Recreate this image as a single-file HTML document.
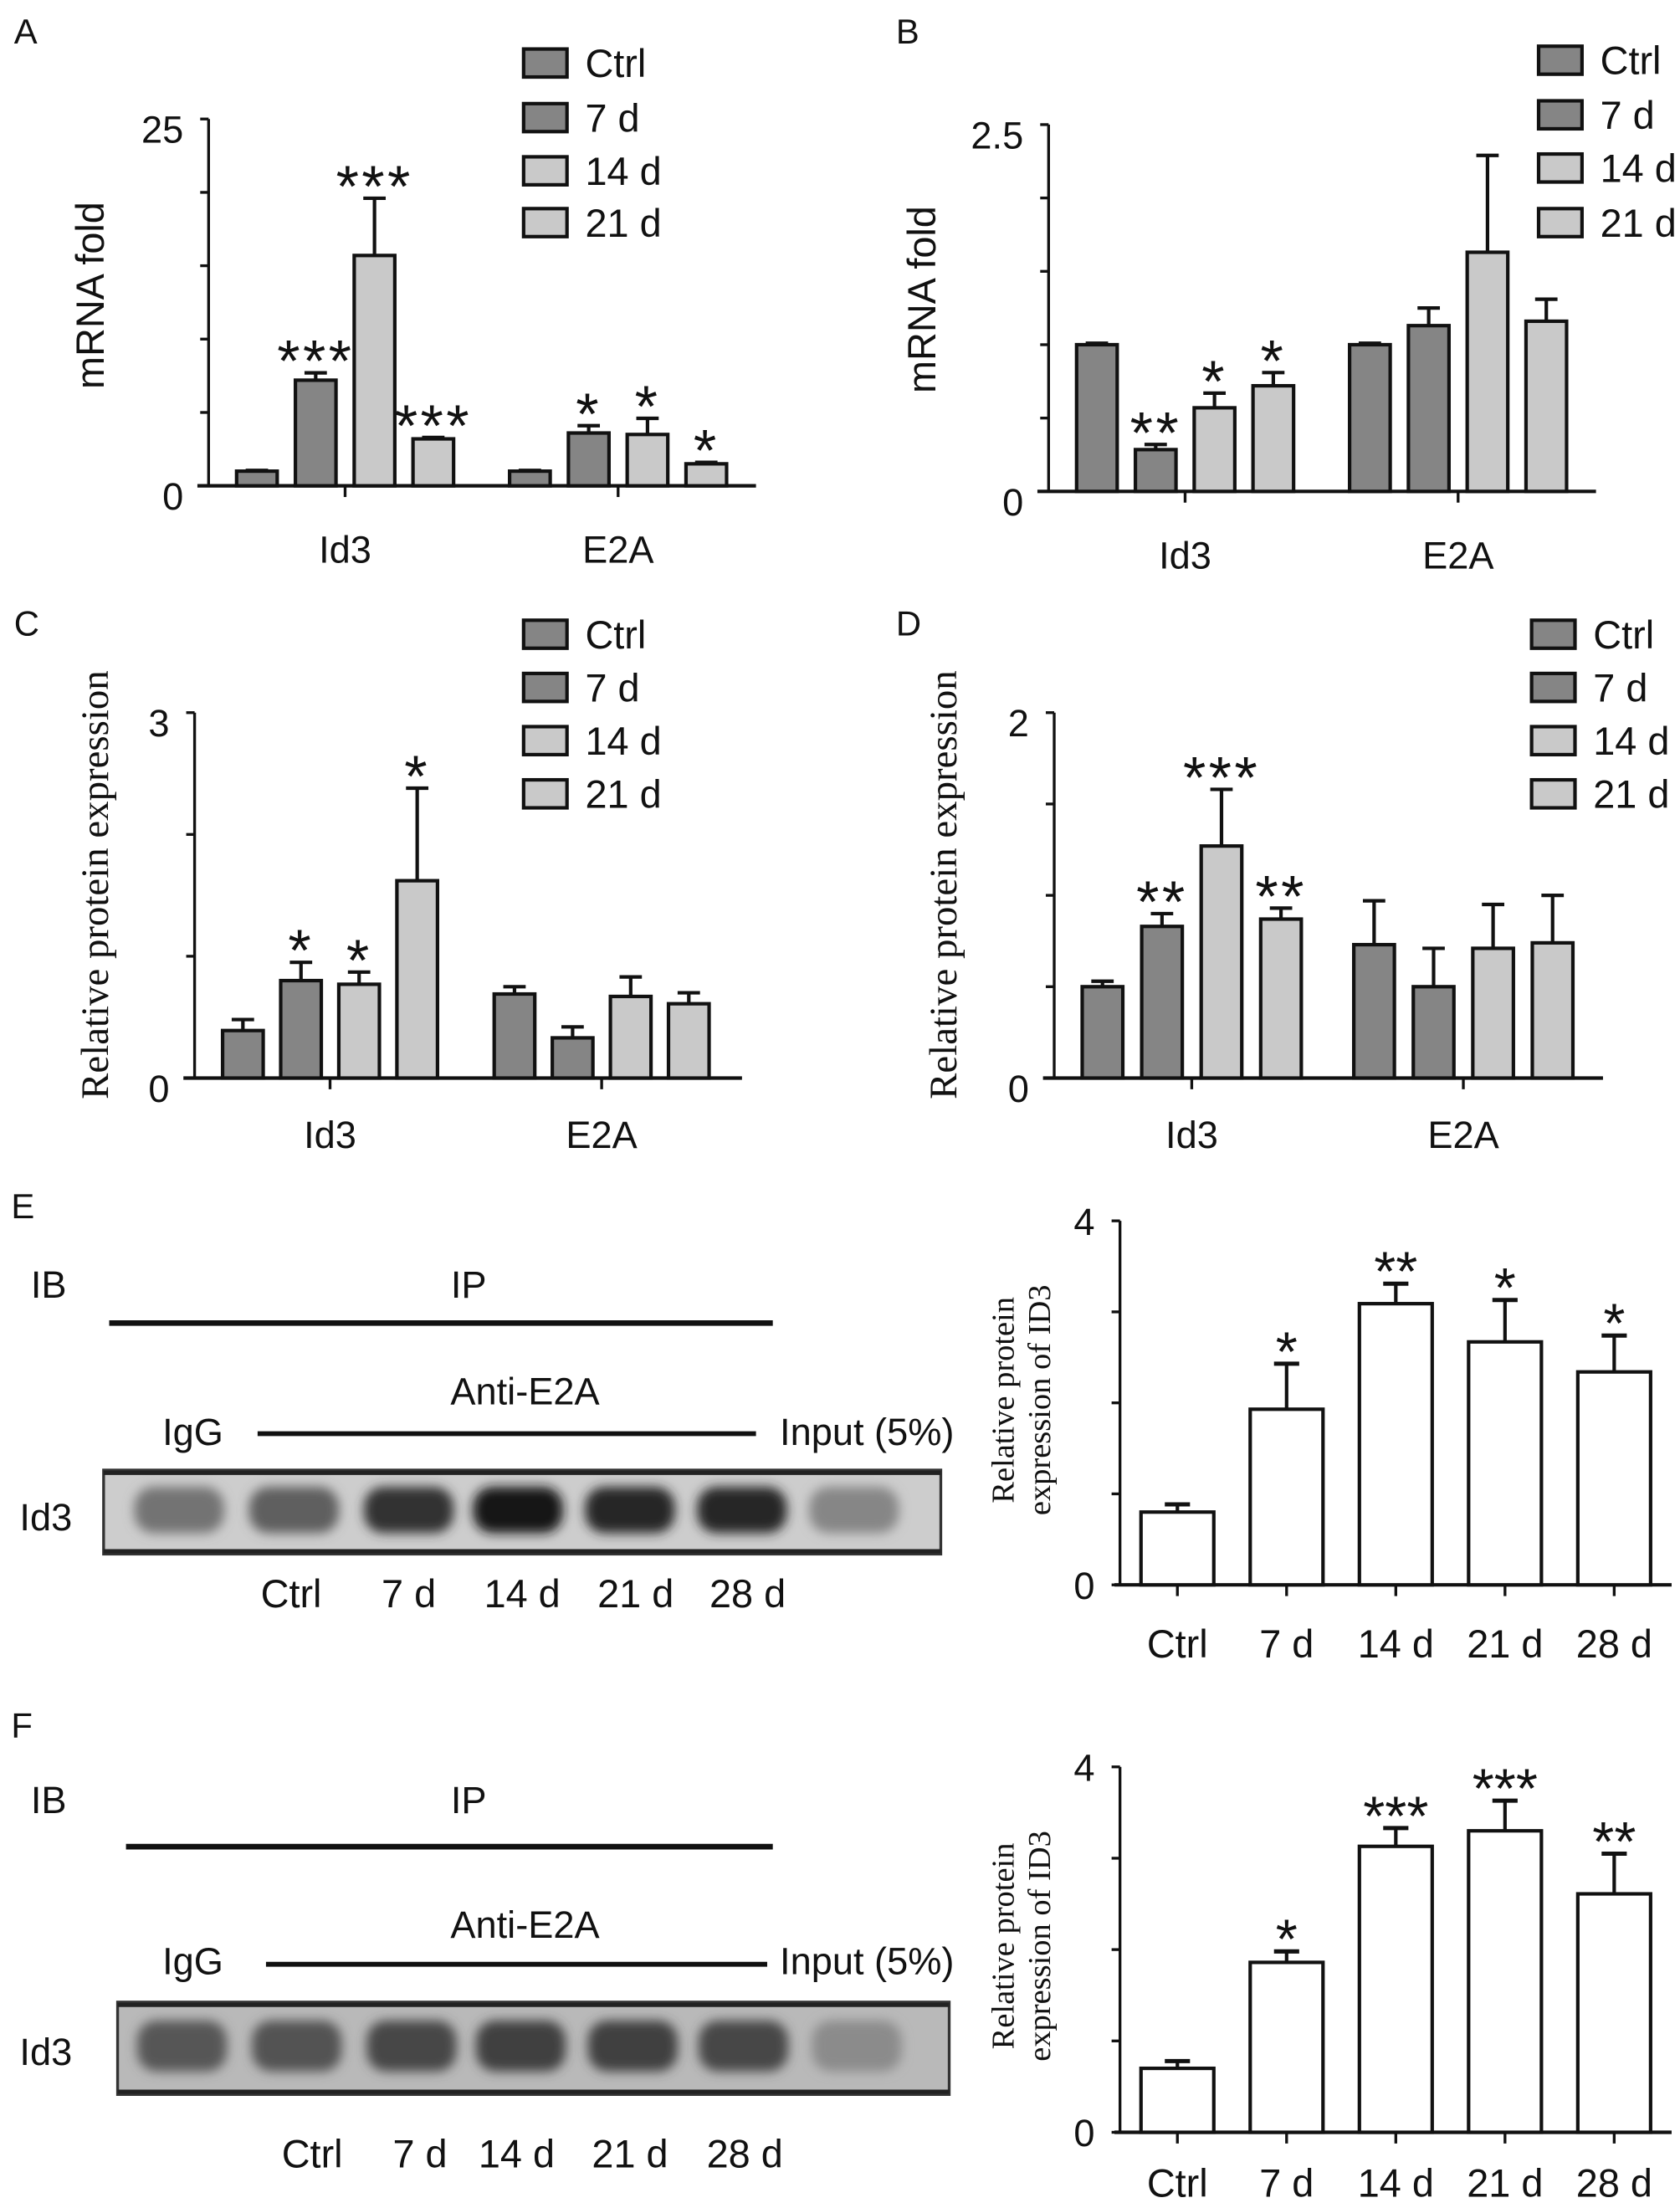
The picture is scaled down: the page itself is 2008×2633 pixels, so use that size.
<!DOCTYPE html>
<html><head><meta charset="utf-8"><style>
html,body{margin:0;padding:0;background:#fff;}
svg{display:block;}
text{font-family:"Liberation Sans",Arial,sans-serif;fill:#111;}
.serif{font-family:"Liberation Serif","Times New Roman",serif;}
.narrow{font-family:"Liberation Sans Narrow","Liberation Sans",sans-serif;}
</style></head><body>
<svg id="fig" xmlns="http://www.w3.org/2000/svg" width="2008" height="2633" viewBox="0 0 1200 1573.5">
<defs><filter id="blur" x="-30%" y="-50%" width="160%" height="200%"><feGaussianBlur stdDeviation="4"/></filter></defs>
<g id="root"></g>
</svg>
<script>
// ---- data ----
const groups = ["Id3","E2A"];
const series = ["Ctrl","7 d","14 d","21 d"];
const aVals = [[1,7.2,15.7,3.2],[1,3.6,3.5,1.5]];
const aErr  = [[1.05,7.7,19.6,3.3],[1.05,4.1,4.6,1.6]];
const aStars= [["","***","***","***"],["","*","*","*"]];
const bVals = [[1.0,0.285,0.57,0.72],[1.0,1.13,1.63,1.16]];
const bErr  = [[1.01,0.32,0.67,0.81],[1.01,1.25,2.29,1.31]];
const bStars= [["","**","*","*"],["","","",""]];
const cVals = [[0.39,0.80,0.77,1.62],[0.69,0.33,0.67,0.61]];
const cErr  = [[0.48,0.95,0.87,2.38],[0.75,0.42,0.83,0.70]];
const cStars= [["","*","*","*"],["","","",""]];
const dVals = [[0.50,0.83,1.27,0.87],[0.73,0.50,0.71,0.74]];
const dErr  = [[0.53,0.90,1.58,0.93],[0.97,0.71,0.95,1.00]];
const dStars= [["","**","***","**"],["","","",""]];
const timeCats = ["Ctrl","7 d","14 d","21 d","28 d"];
const eVals = [0.80,1.93,3.09,2.67,2.34];
const eErr  = [0.885,2.43,3.31,3.13,2.74];
const eStars= ["","*","**","*","*"];
const fVals = [0.70,1.86,3.13,3.30,2.61];
const fErr  = [0.78,1.98,3.33,3.63,3.05];
const fStars= ["","*","***","***","**"];
const eBand = [0.45,0.55,0.8,0.95,0.85,0.85,0.35];
const fBand = [0.6,0.62,0.68,0.72,0.72,0.68,0.32];

const NS="http://www.w3.org/2000/svg";
const root=document.getElementById('root');
function mk(tag,attrs,parent,txt){const e=document.createElementNS(NS,tag);for(const k in attrs)e.setAttribute(k,attrs[k]);if(txt!==undefined)e.textContent=txt;(parent||root).appendChild(e);return e;}
const fills=["#858585","#858585","#c9c9c9","#c9c9c9"];
const FS=27;

function grouped(p){
  const g=mk('g',{});
  
  
  const y=v=>p.y0-(v/p.max)*(p.y0-p.yTop);
  const L=mk('text',{x:p.lx,y:p.ly,'font-size':25},g,p.letter);
  
  
  const ya=mk('line',{x1:p.ax,y1:p.yTop,x2:p.ax,y2:p.y0,stroke:'#111','stroke-width':2},g);
  
  
  for(let i=0;i<=p.n;i++){const v=p.max*i/p.n;mk('line',{x1:p.ax-6,x2:p.ax,y1:y(v),y2:y(v),stroke:'#111','stroke-width':2},g);}
  [[p.max,p.maxLabel],[0,"0"]].forEach(([v,t])=>{const tl=mk('text',{x:p.ax-18,y:y(v)+17,'font-size':FS,'text-anchor':'end'},g,t);
    
    });
  const xa=mk('line',{x1:p.ax-8,y1:p.y0,x2:p.xEnd,y2:p.y0,stroke:'#111','stroke-width':2.5},g);
  
  
  const yl=mk('text',{transform:`translate(${p.ylx},${p.yly}) rotate(-90)`,'text-anchor':'middle','font-size':p.ylSize,class:p.ylClass||''},g,p.ylabel);
  
  
  groups.forEach((gn,gi)=>{
    const gx=p.gx[gi];
    for(let s=0;s<4;s++){
      const x=gx+s*p.pitch, v=p.vals[gi][s], e=p.err[gi][s];
      const r=mk('rect',{x:x,y:y(v),width:p.bw,height:p.y0-y(v),fill:fills[s],stroke:'#111','stroke-width':2.5},g);
      
      
      const cx=x+p.bw/2;
      mk('line',{x1:cx,x2:cx,y1:y(v),y2:y(e),stroke:'#111','stroke-width':2.5},g);
      mk('line',{x1:cx-8,x2:cx+8,y1:y(e),y2:y(e),stroke:'#111','stroke-width':2.5},g);
      const st=p.stars[gi][s];
      if(st){const t=mk('text',{x:cx,y:y(e)+6,'font-size':42,'text-anchor':'middle','letter-spacing':2},g,st);
        
        }
    }
    const tc=gx+1.5*p.pitch+p.bw/2;
    mk('line',{x1:tc,x2:tc,y1:p.y0,y2:p.y0+8,stroke:'#111','stroke-width':2},g);
    const gl=mk('text',{x:tc,y:p.glY,'font-size':FS,'text-anchor':'middle'},g,gn);
    
    
  });
  series.forEach((sn,i)=>{
    const cy=p.legY[i];
    const lb=mk('rect',{x:p.legX,y:cy-10,width:31,height:20,fill:fills[i],stroke:'#111','stroke-width':2.5},g);
    
    
    const lt=mk('text',{x:p.legX+44,y:cy+10,'font-size':28},g,sn);
    
    
  });
}
grouped({name:'panel-a',letter:'A',lx:10,ly:31,ax:149,y0:347,yTop:85,max:25,n:5,maxLabel:'25',xEnd:540,gx:[169,364],pitch:42,bw:29,vals:aVals,err:aErr,stars:aStars,glY:402,legX:374,legY:[45,84,122,159],ylabel:'mRNA fold',ylx:74,yly:211,ylSize:28});
grouped({name:'panel-b',letter:'B',lx:640,ly:31,ax:749,y0:351,yTop:89,max:2.5,n:5,maxLabel:'2.5',xEnd:1140,gx:[769,964],pitch:42,bw:29,vals:bVals,err:bErr,stars:bStars,glY:406,legX:1099,legY:[43,82,120,159],ylabel:'mRNA fold',ylx:668,yly:214,ylSize:28});
grouped({name:'panel-c',letter:'C',lx:10,ly:454,ax:139,y0:770,yTop:509,max:3,n:3,maxLabel:'3',xEnd:530,gx:[159,353],pitch:41.5,bw:29,vals:cVals,err:cErr,stars:cStars,glY:820,legX:374,legY:[453,491,529,567],ylabel:'Relative protein expression',ylx:77,yly:632,ylSize:28,ylClass:'serif'});
grouped({name:'panel-d',letter:'D',lx:640,ly:454,ax:753,y0:770,yTop:509,max:2,n:4,maxLabel:'2',xEnd:1145,gx:[773,967],pitch:42.5,bw:29,vals:dVals,err:dErr,stars:dStars,glY:820,legX:1094,legY:[453,491,529,567],ylabel:'Relative protein expression',ylx:683,yly:632,ylSize:28,ylClass:'serif'});

function single(p){
  const g=mk('g',{});
  
  
  const y=v=>p.y0-(v/4)*(p.y0-p.yTop);
  const ya=mk('line',{x1:p.ax,y1:p.yTop,x2:p.ax,y2:p.y0,stroke:'#111','stroke-width':2},g);
  
  
  for(let i=0;i<=4;i++){mk('line',{x1:p.ax-6,x2:p.ax,y1:y(i),y2:y(i),stroke:'#111','stroke-width':2},g);}
  [[4,'4'],[0,'0']].forEach(([v,t])=>{const tl=mk('text',{x:p.ax-18,y:y(v)+10,'font-size':FS,'text-anchor':'end'},g,t);
    
    });
  const xa=mk('line',{x1:p.ax-4,y1:p.y0,x2:1194,y2:p.y0,stroke:'#111','stroke-width':2.5},g);
  
  
  const yl=mk('text',{transform:`translate(724,${p.ylY}) rotate(-90)`,'text-anchor':'middle','font-size':23,class:'serif'},g,'Relative protein');
  
  
  const yl2=mk('text',{transform:`translate(750,${p.ylY}) rotate(-90)`,'text-anchor':'middle','font-size':23,class:'serif'},g,'expression of ID3');
  
  
  timeCats.forEach((c,i)=>{
    const cx=841+i*78, v=p.vals[i], e=p.err[i];
    const r=mk('rect',{x:cx-26,y:y(v),width:52,height:p.y0-y(v),fill:'#fff',stroke:'#111','stroke-width':2.5},g);
    
    
    mk('line',{x1:cx,x2:cx,y1:y(v),y2:y(e),stroke:'#111','stroke-width':2.5},g);
    mk('line',{x1:cx-9,x2:cx+9,y1:y(e),y2:y(e),stroke:'#111','stroke-width':3},g);
    if(p.stars[i]){const t=mk('text',{x:cx,y:y(e)+5,'font-size':40,'text-anchor':'middle'},g,p.stars[i]);
      
      }
    mk('line',{x1:cx,x2:cx,y1:p.y0,y2:p.y0+8,stroke:'#111','stroke-width':2},g);
    const tl=mk('text',{x:cx,y:p.labY,'font-size':28,'text-anchor':'middle',class:'narrow'},g,c);
    
    
  });
}
single({name:'panel-e-chart',ax:800,y0:1132,yTop:872,vals:eVals,err:eErr,stars:eStars,labY:1184,ylY:1000});
single({name:'panel-f-chart',ax:800,y0:1523,yTop:1262,vals:fVals,err:fErr,stars:fStars,labY:1569,ylY:1390});

function blot(p){
  const g=mk('g',{});
  
  
  const L=mk('text',{x:8,y:p.letterY,'font-size':25},g,p.letter);
  
  
  mk('text',{x:22,y:p.ibY,'font-size':FS},g,'IB');
  mk('text',{x:322,y:p.ibY,'font-size':FS},g,'IP');
  mk('line',{x1:p.ipX1,x2:p.ipX2,y1:p.ipLine,y2:p.ipLine,stroke:'#111','stroke-width':4},g);
  mk('text',{x:375,y:p.antiY,'font-size':FS,'text-anchor':'middle'},g,'Anti-E2A');
  mk('text',{x:116,y:p.igY,'font-size':FS},g,'IgG');
  mk('line',{x1:p.agX1,x2:p.agX2,y1:p.agLine,y2:p.agLine,stroke:'#111','stroke-width':3.5},g);
  mk('text',{x:557,y:p.igY,'font-size':FS,class:'narrow'},g,'Input (5%)');
  mk('text',{x:14,y:p.id3Y,'font-size':FS},g,'Id3');
  const fr=mk('rect',{x:p.bx,y:p.by,width:p.bwid,height:p.bh,fill:p.bg,stroke:'#333','stroke-width':2},g);
  
  
  p.bands.forEach((d,i)=>{
    const cx=p.bandX[i];
    const sh=Math.round(200-190*d);
    const b=mk('rect',{x:cx-32,y:p.by+p.bh*0.2,width:64,height:p.bh*0.55,rx:14,fill:`rgb(${sh},${sh},${sh})`,filter:'url(#blur)'},g);
    
    
  });
  mk('line',{x1:p.bx,x2:p.bx+p.bwid,y1:p.by+2,y2:p.by+2,stroke:'#222','stroke-width':3},g);
  mk('line',{x1:p.bx,x2:p.bx+p.bwid,y1:p.by+p.bh-2,y2:p.by+p.bh-2,stroke:'#222','stroke-width':3},g);
  timeCats.forEach((c,i)=>{const t=mk('text',{x:p.laneX[i],y:p.laneY,'font-size':28,'text-anchor':'middle',class:'narrow'},g,c);
    
    });
}
blot({name:'panel-e-blot',letter:'E',letterY:870,ibY:927,ipX1:78,ipX2:552,ipLine:945,antiY:1003,igY:1032,agX1:184,agX2:540,agLine:1024,id3Y:1093,bx:74,by:1050,bwid:598,bh:60,bg:'#cdcdcd',bands:eBand,bandX:[128,210,292,370,450,530,610],laneX:[208,292,373,454,534],laneY:1148});
blot({name:'panel-f-blot',letter:'F',letterY:1241,ibY:1295,ipX1:90,ipX2:552,ipLine:1319,antiY:1384,igY:1410,agX1:190,agX2:548,agLine:1403,id3Y:1475,bx:84,by:1430,bwid:594,bh:66,bg:'#b9b9b9',bands:fBand,bandX:[130,212,294,372,452,531,612],laneX:[223,300,369,450,532],laneY:1548});
</script>
</body></html>
